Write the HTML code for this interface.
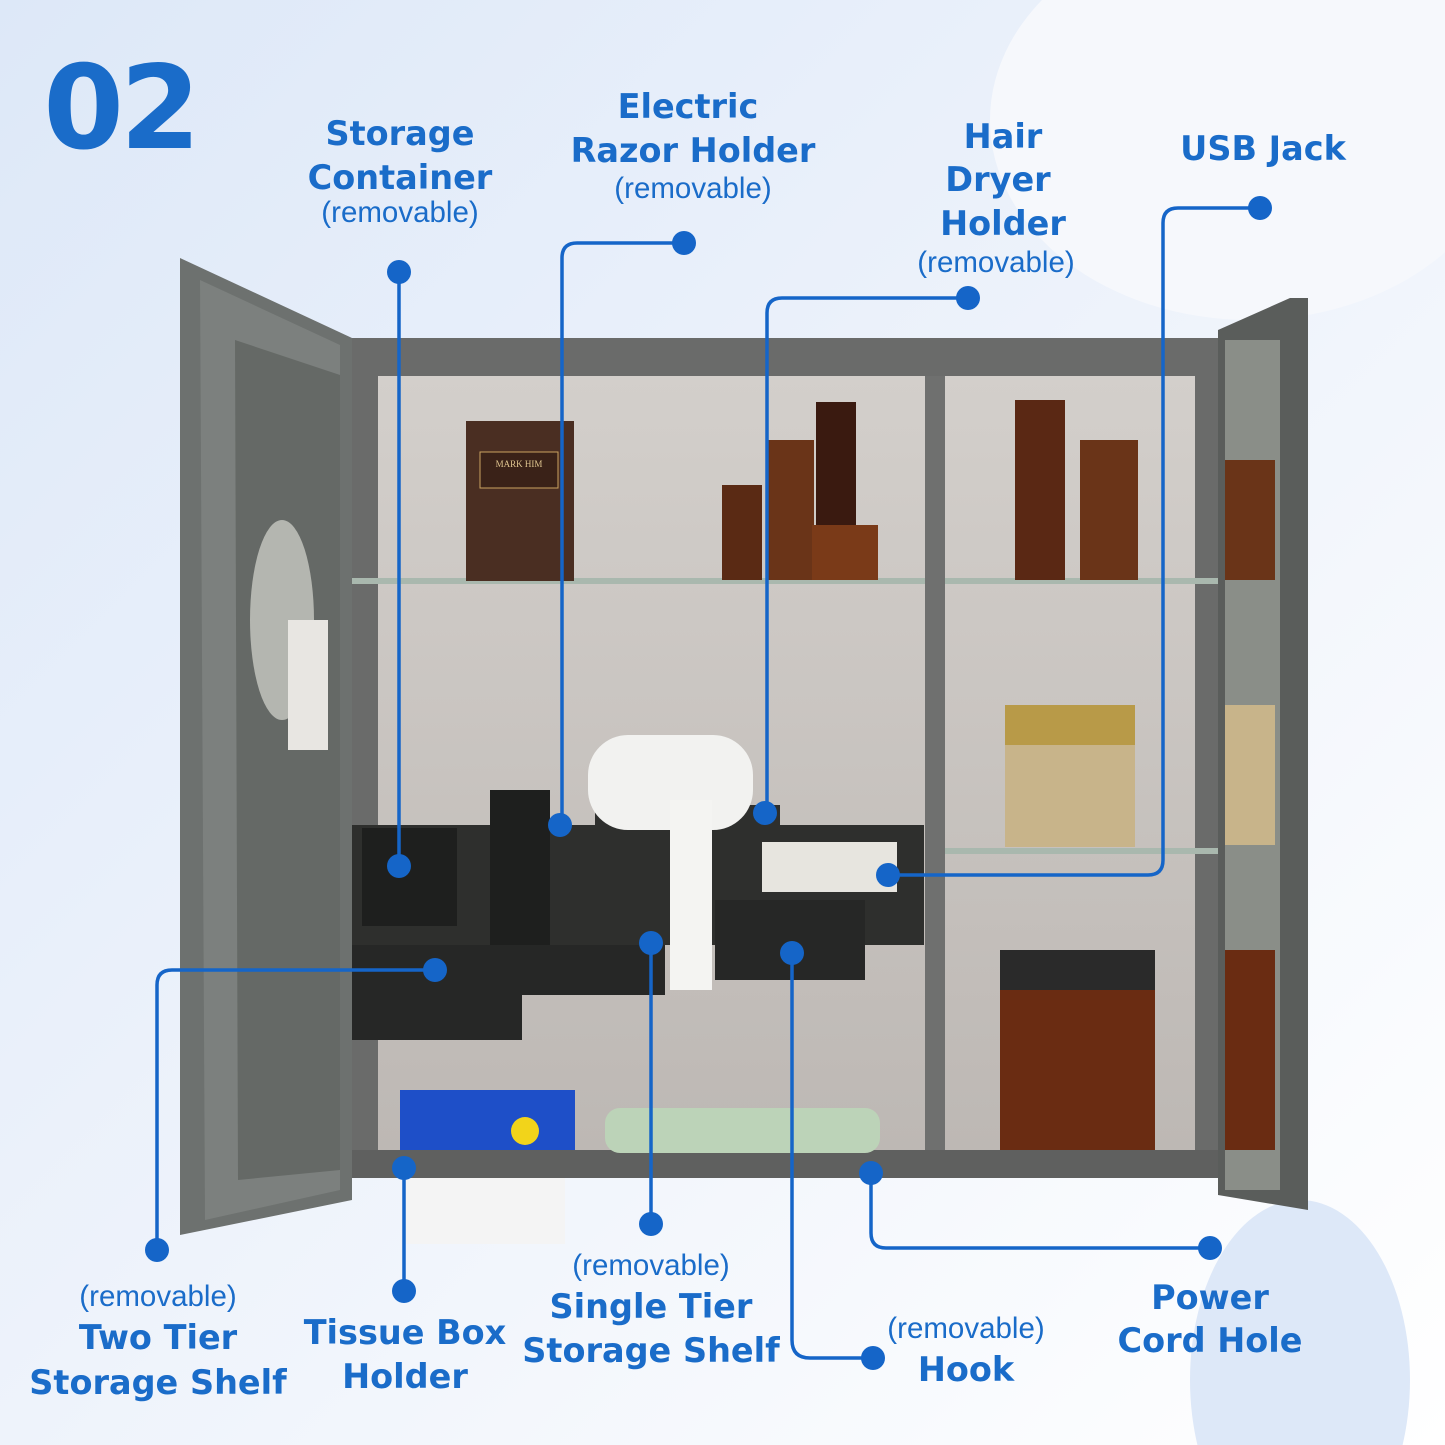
<!DOCTYPE html>
<html><head><style>
html,body{margin:0;padding:0;width:1445px;height:1445px;overflow:hidden;background:#fff}
svg{display:block;overflow:hidden}
.t{font-family:"DejaVu Sans","Liberation Sans",sans-serif;font-weight:bold;fill:#1a6cc9;font-size:33.5px;text-anchor:middle}
.r{font-family:"Liberation Sans",sans-serif;fill:#1a6cc9;font-size:29.5px;text-anchor:middle}
.l{fill:none;stroke:#1565c8;stroke-width:3.5}
.d{fill:#1565c8}
</style></head><body>
<svg width="1445" height="1445" viewBox="0 0 1445 1445">
<defs>
<linearGradient id="bg" x1="0" y1="0" x2="1" y2="1">
<stop offset="0" stop-color="#dde8f8"/><stop offset="0.5" stop-color="#eef3fb"/><stop offset="1" stop-color="#ffffff"/>
</linearGradient>
<linearGradient id="wall" x1="0" y1="0" x2="0" y2="1">
<stop offset="0" stop-color="#d3cfcb"/><stop offset="1" stop-color="#bdb8b4"/>
</linearGradient>
</defs>
<rect width="1445" height="1445" fill="url(#bg)"/>
<ellipse cx="1300" cy="1380" rx="110" ry="180" fill="#dde8f8"/>
<ellipse cx="1250" cy="120" rx="260" ry="200" fill="#f6f8fc"/>

<rect x="352" y="338" width="880" height="840" fill="#6a6b6a"/>
<rect x="378" y="376" width="547" height="775" fill="url(#wall)"/>
<rect x="945" y="376" width="250" height="775" fill="url(#wall)"/>
<rect x="925" y="376" width="20" height="775" fill="#6f706f"/>
<rect x="352" y="1150" width="880" height="28" fill="#5f605f"/>
<rect x="352" y="578" width="573" height="6" fill="#a9b8ae"/>
<rect x="945" y="578" width="280" height="6" fill="#a9b8ae"/>
<rect x="945" y="848" width="280" height="6" fill="#a9b8ae"/>
<rect x="466" y="421" width="108" height="160" fill="#4a2e22"/>
<rect x="480" y="452" width="78" height="36" fill="#3a2218" stroke="#c9a360"/>
<text x="519" y="467" font-size="9" fill="#e0c690" text-anchor="middle" font-family="Liberation Serif">MARK HIM</text>
<rect x="722" y="485" width="40" height="95" fill="#5a2a14"/>
<rect x="768" y="440" width="46" height="140" fill="#6a3418"/>
<rect x="816" y="402" width="40" height="178" fill="#3a1a10"/>
<rect x="812" y="525" width="66" height="55" fill="#7a3a18"/>
<rect x="1015" y="400" width="50" height="180" fill="#5a2814"/>
<rect x="1080" y="440" width="58" height="140" fill="#6a3418"/>
<rect x="1005" y="705" width="130" height="142" fill="#c8b48a"/>
<rect x="1005" y="705" width="130" height="40" fill="#b89a48"/>
<rect x="1000" y="950" width="155" height="200" fill="#6a2c12"/>
<rect x="1000" y="950" width="155" height="40" fill="#2a2a2a"/>
<rect x="352" y="825" width="572" height="120" fill="#2e2f2d"/>
<rect x="362" y="828" width="95" height="98" fill="#1e1f1e"/>
<rect x="490" y="790" width="60" height="170" fill="#1e1f1e"/>
<rect x="595" y="805" width="70" height="25" fill="#2e2f2d"/>
<rect x="715" y="805" width="65" height="25" fill="#2e2f2d"/>
<rect x="762" y="842" width="135" height="50" fill="#e7e5df"/>
<rect x="352" y="945" width="170" height="95" fill="#262726"/>
<rect x="470" y="945" width="195" height="50" fill="#262726"/>
<rect x="715" y="900" width="150" height="80" fill="#262726"/>
<rect x="588" y="735" width="165" height="95" rx="40" fill="#f2f2f0"/>
<rect x="670" y="800" width="42" height="190" fill="#f4f4f2"/>
<rect x="400" y="1090" width="175" height="60" fill="#1e4fc8"/>
<circle cx="525" cy="1131" r="14" fill="#f2d41a"/>
<rect x="605" y="1108" width="275" height="45" rx="15" fill="#bcd3b8"/>
<rect x="405" y="1178" width="160" height="66" fill="#f4f4f4"/>

<polygon points="180,258 352,338 352,1200 180,1235" fill="#6d716f"/>
<polygon points="200,280 340,345 340,1190 205,1220" fill="#7c807e"/>
<polygon points="235,340 340,375 340,1170 238,1180" fill="#656966"/>
<ellipse cx="282" cy="620" rx="32" ry="100" fill="#b4b6b0"/>
<rect x="288" y="620" width="40" height="130" fill="#e8e6e2"/>
<polygon points="1218,330 1290,298 1308,298 1308,1210 1218,1195" fill="#5a5d5b"/>
<rect x="1225" y="340" width="55" height="850" fill="#8a8e88"/>
<rect x="1225" y="460" width="50" height="120" fill="#6a3418"/>
<rect x="1225" y="705" width="50" height="140" fill="#c8b48a"/>
<rect x="1225" y="950" width="50" height="200" fill="#6a2c12"/>

<text x="120" y="148" font-family="DejaVu Sans,Liberation Sans,sans-serif" font-weight="bold" font-size="116" fill="#1a6cc9" text-anchor="middle" letter-spacing="-4">02</text>

<text class="t" x="400" y="145">Storage</text>
<text class="t" x="400" y="189">Container</text>
<text class="r" x="400" y="222">(removable)</text>
<text class="t" x="688" y="118">Electric</text>
<text class="t" x="693" y="162">Razor Holder</text>
<text class="r" x="693" y="198">(removable)</text>
<text class="t" x="1003" y="148">Hair</text>
<text class="t" x="998" y="191">Dryer</text>
<text class="t" x="1003" y="235">Holder</text>
<text class="r" x="996" y="272">(removable)</text>
<text class="t" x="1263" y="160">USB Jack</text>
<text class="r" x="158" y="1306">(removable)</text>
<text class="t" x="158" y="1349">Two Tier</text>
<text class="t" x="158" y="1394">Storage Shelf</text>
<text class="t" x="405" y="1344">Tissue Box</text>
<text class="t" x="405" y="1388">Holder</text>
<text class="r" x="651" y="1275">(removable)</text>
<text class="t" x="651" y="1318">Single Tier</text>
<text class="t" x="651" y="1362">Storage Shelf</text>
<text class="r" x="966" y="1338">(removable)</text>
<text class="t" x="966" y="1381">Hook</text>
<text class="t" x="1210" y="1309">Power</text>
<text class="t" x="1210" y="1352">Cord Hole</text>

<path class="l" d="M399,272 V866"/>
<path class="l" d="M684,243 H577 Q562,243 562,258 V825"/>
<path class="l" d="M968,298 H782 Q767,298 767,313 V813"/>
<path class="l" d="M1260,208 H1178 Q1163,208 1163,223 V860 Q1163,875 1148,875 H888"/>
<path class="l" d="M435,970 H172 Q157,970 157,985 V1250"/>
<path class="l" d="M404,1168 V1291"/>
<path class="l" d="M651,943 V1224"/>
<path class="l" d="M792,953 V1340 Q792,1358 810,1358 H873"/>
<path class="l" d="M871,1173 V1233 Q871,1248 886,1248 H1210"/>
<g class="d">
<circle cx="399" cy="272" r="12"/><circle cx="399" cy="866" r="12"/>
<circle cx="684" cy="243" r="12"/><circle cx="560" cy="825" r="12"/>
<circle cx="968" cy="298" r="12"/><circle cx="765" cy="813" r="12"/>
<circle cx="1260" cy="208" r="12"/><circle cx="888" cy="875" r="12"/>
<circle cx="435" cy="970" r="12"/><circle cx="157" cy="1250" r="12"/>
<circle cx="404" cy="1168" r="12"/><circle cx="404" cy="1291" r="12"/>
<circle cx="651" cy="943" r="12"/><circle cx="651" cy="1224" r="12"/>
<circle cx="792" cy="953" r="12"/><circle cx="873" cy="1358" r="12"/>
<circle cx="871" cy="1173" r="12"/><circle cx="1210" cy="1248" r="12"/>
</g>
</svg>
</body></html>
